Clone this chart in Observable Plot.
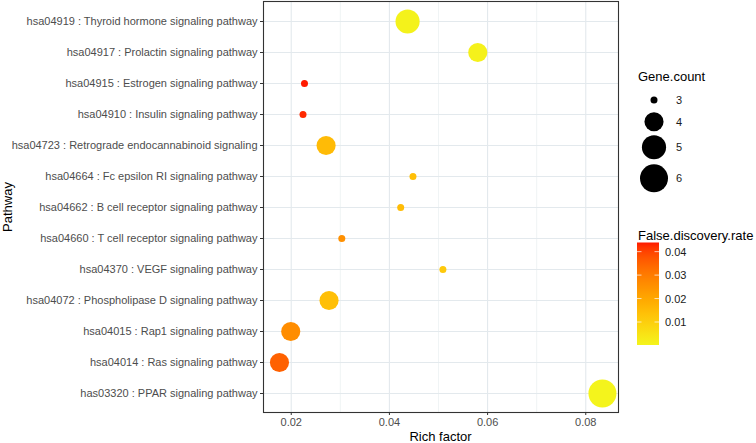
<!DOCTYPE html>
<html><head><meta charset="utf-8">
<script src="https://cdn.jsdelivr.net/npm/d3@7"></script>
<script src="https://cdn.jsdelivr.net/npm/@observablehq/plot@0.6"></script>
<style>
body{margin:0;background:#fff;font-family:"Liberation Sans",Arial,sans-serif}
#chart{position:relative;width:756px;height:443px;overflow:hidden}
#chart svg{position:absolute;left:0;top:0}
</style>
</head><body><div id="chart"></div>
<script>
// ---- data ----
const pathways = [
  "hsa04919 : Thyroid hormone signaling pathway",
  "hsa04917 : Prolactin signaling pathway",
  "hsa04915 : Estrogen signaling pathway",
  "hsa04910 : Insulin signaling pathway",
  "hsa04723 : Retrograde endocannabinoid signaling",
  "hsa04664 : Fc epsilon RI signaling pathway",
  "hsa04662 : B cell receptor signaling pathway",
  "hsa04660 : T cell receptor signaling pathway",
  "hsa04370 : VEGF signaling pathway",
  "hsa04072 : Phospholipase D signaling pathway",
  "hsa04015 : Rap1 signaling pathway",
  "hsa04014 : Ras signaling pathway",
  "has03320 : PPAR signaling pathway"
];
const richFactor = [0.0437, 0.0580, 0.0227, 0.0224, 0.0271, 0.0448, 0.0423, 0.0303, 0.0509, 0.0277, 0.0199, 0.0176, 0.0834];
const geneCount  = [5, 4, 3, 3, 4, 3, 3, 3, 3, 4, 4, 4, 6];
const fdr        = [0.0006, 0.0011, 0.0439, 0.0428, 0.0150, 0.0140, 0.0148, 0.0255, 0.0115, 0.0140, 0.0262, 0.0352, 0.0002];
const xTicks = [0.02, 0.04, 0.06, 0.08];
const xMinorTicks = [0.03, 0.05, 0.07];
const sizeLegendValues = [3, 4, 5, 6];
const colorLegendTicks = [0.01, 0.02, 0.03, 0.04];

const data = pathways.map((p, i) => ({pathway: p, rich: richFactor[i], count: geneCount[i], fdr: fdr[i]}));
const fdrDomain = [d3.min(fdr), d3.max(fdr)];

const W = 756, H = 443;
const plot = Plot.plot({
  width: W, height: H,
  marginLeft: 263, marginRight: 138, marginTop: 1, marginBottom: 31,
  style: {fontFamily: "'Liberation Sans', Arial, sans-serif", background: "transparent", overflow: "visible"},
  x: {domain: [0.01435, 0.08667], ticks: xTicks, tickFormat: d3.format(".2f")},
  y: {type: "point", domain: pathways, padding: 0.6},
  r: {type: "sqrt", domain: [0, 3], range: [3.5, 14]},
  color: {type: "linear", domain: fdrDomain, range: ["#f4f41c", "#ff1a00"], interpolate: "lab"},
  marks: [
    Plot.ruleX(xMinorTicks, {stroke: "#e6ecef", strokeWidth: 0.6}),
    Plot.ruleX(xTicks, {stroke: "#e3e9ed", strokeWidth: 1.1}),
    Plot.ruleY(pathways, {y: d => d, stroke: "#e3e9ed", strokeWidth: 1.1}),
    Plot.dot(data, {x: "rich", y: "pathway", r: d => d.count - 3, fill: "fdr", stroke: "none"}),
    Plot.frame({stroke: "#333", strokeWidth: 1.1}),
    Plot.axisX({ticks: xTicks, tickFormat: d3.format(".2f"), tickSize: 3, tickPadding: 3, fontSize: 11, color: "#4d4d4d", stroke: "#333", label: null}),
    Plot.axisY({tickSize: 3, tickPadding: 3, fontSize: 11, color: "#4d4d4d", stroke: "#333", label: null})
  ]
});
const chart = document.getElementById("chart");
chart.appendChild(plot);

// axis titles
const svg = d3.select(plot);
svg.append("text").attr("x", 440.5).attr("y", 441).attr("text-anchor", "middle")
  .attr("font-size", 13).attr("fill", "#000").text("Rich factor");
svg.append("text").attr("transform", "translate(12,207) rotate(-90)").attr("text-anchor", "middle")
  .attr("font-size", 13).attr("fill", "#000").text("Pathway");

// ---- legends ----
const rS = plot.scale("r");
const cS = plot.scale("color");
const rApply = rS && rS.apply ? rS.apply : d3.scaleSqrt().domain([0, 3]).range([3.5, 14]);
const cApply = cS && cS.apply ? cS.apply : d3.scaleLinear().domain(fdrDomain).range(["#f4f41c", "#ff1a00"]).interpolate(d3.interpolateLab);

const leg = d3.select(chart).append("svg").attr("width", W).attr("height", H)
  .style("font-family", "'Liberation Sans', Arial, sans-serif");

leg.append("text").attr("x", 638).attr("y", 81).attr("font-size", 13).attr("fill", "#000").text("Gene.count");
const keyY = [100, 121.7, 147.3, 178.3];
sizeLegendValues.forEach((v, i) => {
  leg.append("circle").attr("cx", 654).attr("cy", keyY[i]).attr("r", rApply(v - 3)).attr("fill", "#000");
  leg.append("text").attr("x", 676).attr("y", keyY[i] + 4).attr("font-size", 11).attr("fill", "#1a1a1a").text(v);
});

leg.append("text").attr("x", 638).attr("y", 239.5).attr("font-size", 13).attr("fill", "#000").text("False.discovery.rate");
const barX = 637, barW = 22, barTop = 242.5, barBot = 345;
const yBar = d3.scaleLinear().domain(fdrDomain).range([barBot, barTop]);
const grad = leg.append("defs").append("linearGradient").attr("id", "fdrgrad")
  .attr("x1", 0).attr("y1", 1).attr("x2", 0).attr("y2", 0);
d3.range(0, 1.0001, 0.05).forEach(t => {
  grad.append("stop").attr("offset", t).attr("stop-color", cApply(fdrDomain[0] + t * (fdrDomain[1] - fdrDomain[0])));
});
leg.append("rect").attr("x", barX).attr("y", barTop).attr("width", barW).attr("height", barBot - barTop).attr("fill", "url(#fdrgrad)");
colorLegendTicks.forEach(v => {
  const y = yBar(v);
  leg.append("line").attr("x1", barX).attr("x2", barX + 4.5).attr("y1", y).attr("y2", y).attr("stroke", "#fff").attr("stroke-opacity", 0.7);
  leg.append("line").attr("x1", barX + barW - 4.5).attr("x2", barX + barW).attr("y1", y).attr("y2", y).attr("stroke", "#fff").attr("stroke-opacity", 0.7);
  leg.append("text").attr("x", 665).attr("y", y + 4).attr("font-size", 11).attr("fill", "#1a1a1a").text(d3.format(".2f")(v));
});
</script>
</body></html>
